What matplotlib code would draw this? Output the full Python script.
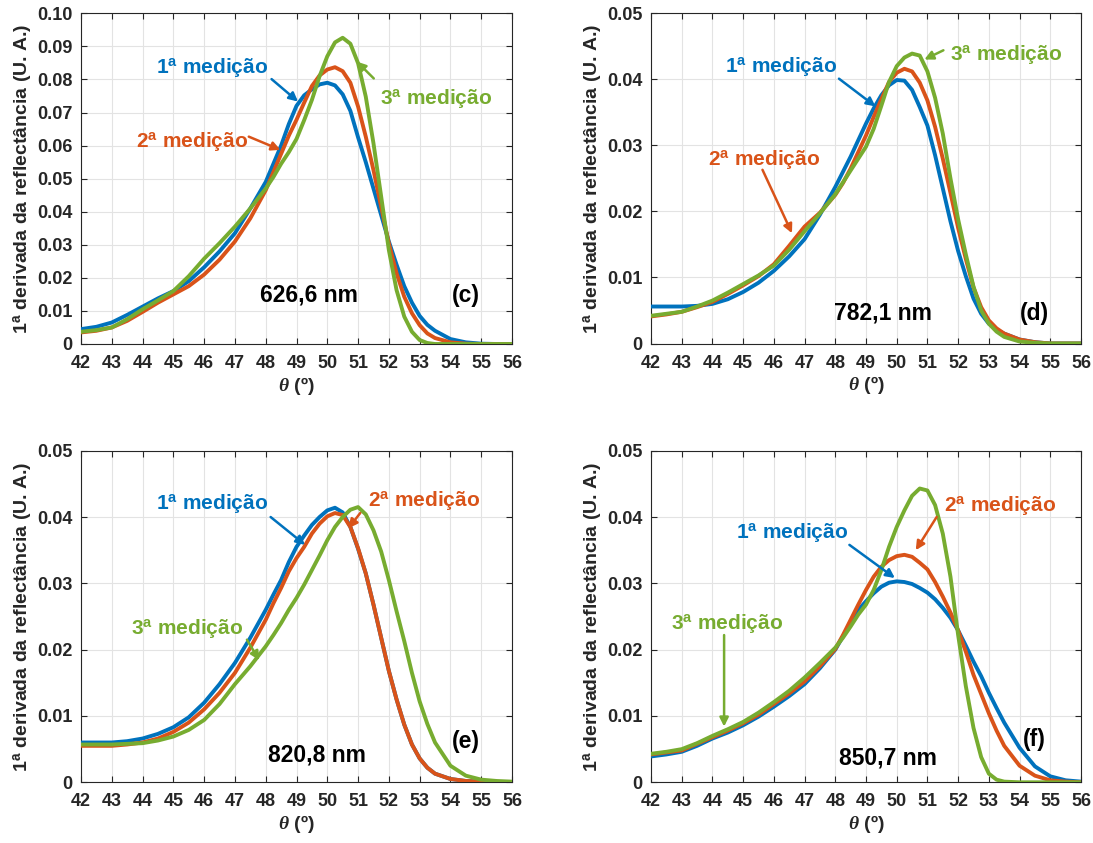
import matplotlib
matplotlib.use("Agg")
import matplotlib.pyplot as plt
from matplotlib.ticker import FixedLocator, FuncFormatter

plt.rcParams["font.family"] = ["Liberation Sans", "DejaVu Sans"]
plt.rcParams["font.weight"] = "bold"
plt.rcParams["mathtext.fontset"] = "custom"
plt.rcParams["mathtext.rm"] = "Liberation Sans:bold"
plt.rcParams["mathtext.bf"] = "Liberation Sans:bold"
plt.rcParams["mathtext.it"] = "Liberation Serif:italic"

# angulo (graus), comum a todas as curvas
theta = [42, 42.5, 43, 43.5, 44, 44.5, 45, 45.5, 46, 46.5, 47, 47.5,
         48, 48.25, 48.5, 48.75, 49, 49.25, 49.5, 49.75, 50, 50.25, 50.5, 50.75,
         51, 51.25, 51.5, 51.75, 52, 52.25, 52.5, 52.75, 53, 53.25, 53.5,
         54, 54.5, 55, 55.5, 56]

# (c) 626,6 nm
c_med1 = [0.0045, 0.0052, 0.0065, 0.0088, 0.0113, 0.0138, 0.016, 0.019, 0.0232, 0.028, 0.0335, 0.041,
          0.049, 0.0545, 0.060, 0.0665, 0.072, 0.0752, 0.0770, 0.0785, 0.079, 0.0782, 0.0755, 0.0705,
          0.0625, 0.055, 0.047, 0.039, 0.031, 0.024, 0.0175, 0.0125, 0.0085, 0.0058, 0.004,
          0.0015, 0.0005, 0.0001, 0, 0]
c_med2 = [0.0035, 0.004, 0.005, 0.007, 0.0097, 0.0125, 0.015, 0.0175, 0.021, 0.0255, 0.031, 0.038,
          0.0465, 0.052, 0.0575, 0.063, 0.0678, 0.073, 0.078, 0.0812, 0.083, 0.0837, 0.0825, 0.079,
          0.0718, 0.0627, 0.0526, 0.0415, 0.0304, 0.0214, 0.0143, 0.0093, 0.0057, 0.0032, 0.0018,
          0.0005, 0.0001, 0, 0, 0]
c_med3 = [0.0037, 0.0042, 0.005, 0.0075, 0.0105, 0.0132, 0.016, 0.0205, 0.0258, 0.0305, 0.0355, 0.041,
          0.047, 0.0505, 0.0545, 0.058, 0.062, 0.0677, 0.0738, 0.081, 0.087, 0.0912, 0.0926, 0.0908,
          0.0849, 0.0748, 0.0607, 0.0446, 0.0284, 0.0163, 0.0083, 0.0037, 0.0012, 0.0003, 0,
          0, 0, 0, 0, 0]

# (d) 782,1 nm
d_med1 = [0.0056, 0.0056, 0.0056, 0.0057, 0.006, 0.0067, 0.0078, 0.0092, 0.011, 0.0132, 0.0158, 0.0195,
          0.0237, 0.026, 0.0283, 0.0308, 0.0333, 0.0356, 0.0376, 0.0391, 0.0399, 0.0398, 0.0384, 0.0358,
          0.033, 0.0285, 0.0235, 0.0185, 0.014, 0.0102, 0.0068, 0.0045, 0.003, 0.0021, 0.0015,
          0.0006, 0.0002, 0, 0, 0]
d_med2 = [0.0041, 0.0044, 0.0048, 0.0055, 0.0063, 0.0075, 0.0088, 0.0102, 0.012, 0.0148, 0.0177, 0.0198,
          0.0225, 0.0243, 0.0265, 0.029, 0.0315, 0.0343, 0.037, 0.0396, 0.041, 0.0416, 0.0412, 0.0395,
          0.0368, 0.0328, 0.028, 0.0228, 0.0175, 0.0128, 0.0085, 0.0055, 0.0035, 0.0023, 0.0015,
          0.0006, 0.0002, 0, 0, 0]
d_med3 = [0.0042, 0.0045, 0.0048, 0.0056, 0.0065, 0.0077, 0.009, 0.0103, 0.0118, 0.0142, 0.017, 0.0197,
          0.0226, 0.0244, 0.0262, 0.028, 0.0298, 0.0325, 0.036, 0.0396, 0.042, 0.0433, 0.0439, 0.0436,
          0.0412, 0.0372, 0.0318, 0.025, 0.0188, 0.0135, 0.0086, 0.005, 0.003, 0.0018, 0.001,
          0.0003, 0.0001, 0, 0, 0]

# (e) 820,8 nm
e_med1 = [0.006, 0.006, 0.006, 0.0062, 0.0066, 0.0073, 0.0083, 0.0098, 0.012, 0.0148, 0.018, 0.0218,
          0.026, 0.0283, 0.0305, 0.0332, 0.0355, 0.0372, 0.0388, 0.040, 0.041, 0.0414, 0.0407, 0.0385,
          0.0352, 0.0315, 0.0268, 0.0218, 0.0168, 0.0125, 0.0087, 0.0057, 0.0036, 0.0022, 0.0013,
          0.0005, 0.0002, 0.0001, 0, 0]
e_med2 = [0.0055, 0.0055, 0.0055, 0.0057, 0.006, 0.0066, 0.0076, 0.009, 0.011, 0.0135, 0.0165, 0.0203,
          0.0245, 0.027, 0.0293, 0.0318, 0.0338, 0.0355, 0.0375, 0.039, 0.0401, 0.0406, 0.0403, 0.0385,
          0.0353, 0.0315, 0.0268, 0.0218, 0.0168, 0.0125, 0.0087, 0.0057, 0.0036, 0.0022, 0.0013,
          0.0005, 0.0002, 0.0001, 0, 0]
e_med3 = [0.0057, 0.0057, 0.0057, 0.0058, 0.0059, 0.0063, 0.0069, 0.0079, 0.0094, 0.0118, 0.0148, 0.0175,
          0.0205, 0.0222, 0.024, 0.026, 0.0278, 0.0298, 0.032, 0.0342, 0.0365, 0.0385, 0.040, 0.0411,
          0.0415, 0.0404, 0.038, 0.0348, 0.0305, 0.0258, 0.0213, 0.0165, 0.0122, 0.0088, 0.006,
          0.0025, 0.001, 0.0004, 0.0002, 0.0001]

# (f) 850,7 nm
f_med1 = [0.0039, 0.0042, 0.0046, 0.0055, 0.0066, 0.0075, 0.0086, 0.0099, 0.0114, 0.013, 0.0148, 0.0172,
          0.020, 0.022, 0.024, 0.026, 0.0273, 0.0285, 0.0295, 0.0301, 0.0303, 0.0302, 0.0299, 0.0293,
          0.0286, 0.0276, 0.0263, 0.0248, 0.0229, 0.0206, 0.0182, 0.016, 0.0135, 0.0112, 0.009,
          0.0052, 0.0024, 0.0009, 0.0003, 0.0001]
f_med2 = [0.0042, 0.0045, 0.0048, 0.0058, 0.0068, 0.0078, 0.0089, 0.0102, 0.0118, 0.0134, 0.0152, 0.0175,
          0.0201, 0.0222, 0.0245, 0.0268, 0.029, 0.031, 0.0325, 0.0335, 0.0341, 0.0343, 0.034, 0.0331,
          0.0321, 0.0302, 0.028, 0.0256, 0.0229, 0.0197, 0.0162, 0.0133, 0.0104, 0.0078, 0.0055,
          0.0025, 0.001, 0.0003, 0.0001, 0]
f_med3 = [0.0043, 0.0046, 0.005, 0.0059, 0.007, 0.008, 0.0091, 0.0105, 0.0121, 0.0138, 0.0158, 0.018,
          0.0203, 0.0218, 0.0235, 0.0253, 0.0268, 0.029, 0.032, 0.0355, 0.0385, 0.0410, 0.0432, 0.0443,
          0.0440, 0.0418, 0.0375, 0.031, 0.0222, 0.0145, 0.0082, 0.0038, 0.0013, 0.0004, 0.0001,
          0, 0, 0, 0, 0]

wavelengths = ["626,6 nm", "782,1 nm", "820,8 nm", "850,7 nm"]
letters = ["(c)", "(d)", "(e)", "(f)"]
ymax = [0.10, 0.05, 0.05, 0.05]

cores = ["#0072BD", "#D95319", "#77AC30"]
rotulos = [r"1$^{\mathbf{a}}$ medição", r"2$^{\mathbf{a}}$ medição", r"3$^{\mathbf{a}}$ medição"]
cinza = "#262626"

# texto (x, y) e seta (origem -> ponta) para cada medição, por painel
anotacoes = [
    [((46.25, 0.0835), (48.19, 0.0801), (49.05, 0.0733)),
     ((45.6, 0.0612), (47.45, 0.0627), (48.48, 0.0587)),
     ((53.55, 0.0743), (51.51, 0.0803), (50.96, 0.0854))],
    [((46.24, 0.0419), (48.12, 0.0401), (49.31, 0.0359)),
     ((45.67, 0.0279), (45.63, 0.0263), (46.59, 0.0167)),
     ((53.56, 0.0437), (51.52, 0.0444), (50.9, 0.0430))],
    [((46.27, 0.0421), (48.16, 0.0400), (49.28, 0.0358)),
     ((53.14, 0.0425), (51.07, 0.0406), (50.69, 0.0383)),
     ((45.45, 0.0232), (47.39, 0.0215), (47.79, 0.0184))],
    [((46.58, 0.0376), (48.46, 0.0358), (49.94, 0.0308)),
     ((53.35, 0.0418), (51.3, 0.0400), (50.62, 0.0350)),
     ((44.47, 0.0239), (44.38, 0.0222), (44.38, 0.0084))],
]
pos_nm = [(49.39, 0.0148), (49.56, 0.0046), (49.68, 0.0041), (49.73, 0.0036)]
pos_letra = [(54.49, 0.0148), (54.47, 0.0046), (54.49, 0.0061), (54.47, 0.0064)]

series = [(c_med1, c_med2, c_med3), (d_med1, d_med2, d_med3),
          (e_med1, e_med2, e_med3), (f_med1, f_med2, f_med3)]

W, H = 1093, 843
caixas = [(81, 13.3, 431, 330.7), (651, 13.3, 430, 330.2),
          (81, 450.7, 431, 331.6), (651, 450.7, 430, 331.6)]

fig = plt.figure(figsize=(W / 100, H / 100), dpi=100)


def fmt_y(v, pos):
    return "0" if abs(v) < 1e-9 else "%.2f" % v


for i in range(4):
    x0, y0, w, h = caixas[i]
    ax = fig.add_axes([x0 / W, 1 - (y0 + h) / H, w / W, h / H])

    for k in range(3):
        ax.plot(theta, series[i][k], color=cores[k], lw=2.8, solid_capstyle="round",
                solid_joinstyle="round", zorder=3)

    ax.set_xlim(42, 56)
    ax.set_ylim(0, ymax[i])
    ax.xaxis.set_major_locator(FixedLocator(list(range(42, 57))))
    nt = int(round(ymax[i] / 0.01))
    ax.yaxis.set_major_locator(FixedLocator([j * 0.01 for j in range(nt + 1)]))
    ax.yaxis.set_major_formatter(FuncFormatter(fmt_y))
    ax.tick_params(direction="in", length=4, width=0.8, color=cinza, labelcolor=cinza,
                   top=True, right=True, labelsize=13)
    ax.tick_params(axis="x", pad=8)
    ax.tick_params(axis="y", pad=6)
    for t in ax.get_xticklabels() + ax.get_yticklabels():
        t.set_fontweight("bold")
    ax.grid(True, color="#e3e3e3", lw=0.8)
    ax.set_axisbelow(True)
    for s in ax.spines.values():
        s.set_color(cinza)
        s.set_linewidth(0.8)

    ax.set_xlabel(r"$\theta$ (º)", fontsize=14, color=cinza, fontweight="bold", labelpad=2)
    ax.set_ylabel(r"1$^{\mathbf{a}}$ derivada da reflectância (U. A.)", fontsize=14,
                  color=cinza, fontweight="bold", labelpad=2)

    for k in range(3):
        (tx, ty), (ax0, ay0), (ax1, ay1) = anotacoes[i][k]
        ax.text(tx, ty, rotulos[k], color=cores[k], fontsize=15, fontweight="bold",
                ha="center", va="center", zorder=5)
        ax.annotate("", xy=(ax1, ay1), xytext=(ax0, ay0),
                    arrowprops=dict(arrowstyle="-|>", color=cores[k], lw=1.8,
                                    mutation_scale=13, shrinkA=0, shrinkB=0), zorder=5)

    ax.text(pos_nm[i][0], pos_nm[i][1], wavelengths[i], fontsize=16.5, fontweight="bold",
            ha="center", va="center", color="black", zorder=5)
    ax.text(pos_letra[i][0], pos_letra[i][1], letters[i], fontsize=16.5, fontweight="bold",
            ha="center", va="center", color="black", zorder=5)

fig.savefig("out.png", dpi=100)
